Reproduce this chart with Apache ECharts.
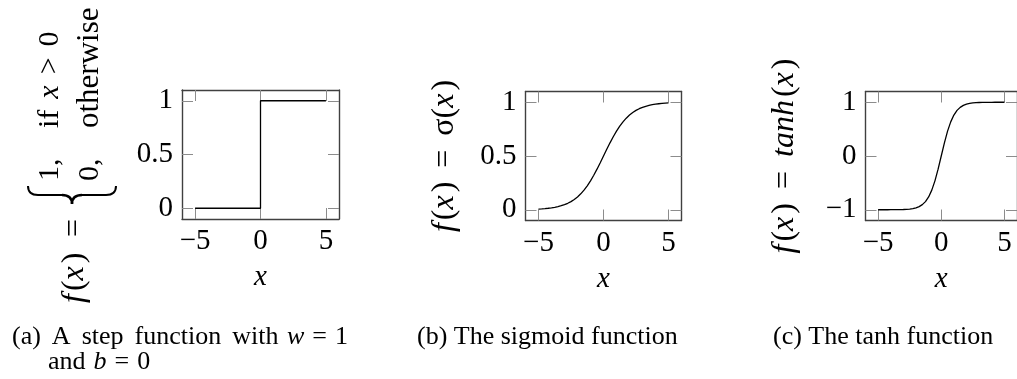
<!DOCTYPE html>
<html>
<head>
<meta charset="utf-8">
<script src="https://cdn.jsdelivr.net/npm/echarts@6/dist/echarts.min.js"></script>
<style>
  html, body { margin: 0; padding: 0; background: #fff; }
  #chart { width: 1017px; height: 379px; }
</style>
</head>
<body>
<div id="chart"></div>
<script>
// Shared x tick values
const xTicks = [-5, 0, 5];

// (a) step function, w = 1, b = 0
const stepX = [-5, 0, 0, 5];
const stepY = [0, 0, 1, 1];
const stepYTicks = [0, 0.5, 1];

// (b) sigmoid and (c) tanh, sampled every 0.25 on [-5, 5]
const curveX = [-5, -4.75, -4.5, -4.25, -4, -3.75, -3.5, -3.25, -3, -2.75, -2.5, -2.25, -2, -1.75, -1.5, -1.25,
                -1, -0.75, -0.5, -0.25, 0, 0.25, 0.5, 0.75, 1, 1.25, 1.5, 1.75, 2, 2.25, 2.5, 2.75,
                3, 3.25, 3.5, 3.75, 4, 4.25, 4.5, 4.75, 5];
const sigmoidY = [0.0067, 0.0086, 0.0110, 0.0141, 0.0180, 0.0230, 0.0293, 0.0373, 0.0474, 0.0601, 0.0759,
                  0.0953, 0.1192, 0.1480, 0.1824, 0.2227, 0.2689, 0.3208, 0.3775, 0.4378, 0.5,
                  0.5622, 0.6225, 0.6792, 0.7311, 0.7773, 0.8176, 0.8520, 0.8808, 0.9047, 0.9241,
                  0.9399, 0.9526, 0.9627, 0.9707, 0.9770, 0.9820, 0.9859, 0.9890, 0.9914, 0.9933];
const sigmoidYTicks = [0, 0.5, 1];
const tanhY = [-0.9999, -0.9999, -0.9998, -0.9996, -0.9993, -0.9989, -0.9982, -0.9970, -0.9951, -0.9919, -0.9866,
               -0.9780, -0.9640, -0.9414, -0.9051, -0.8483, -0.7616, -0.6351, -0.4621, -0.2449, 0,
               0.2449, 0.4621, 0.6351, 0.7616, 0.8483, 0.9051, 0.9414, 0.9640, 0.9780, 0.9866,
               0.9919, 0.9951, 0.9970, 0.9982, 0.9989, 0.9993, 0.9996, 0.9998, 0.9999, 0.9999];
const tanhYTicks = [-1, 0, 1];

const SERIF = '"Liberation Serif", "DejaVu Serif", serif';
const TICK_SIZE = 29;
const MATH_SIZE = 32;
const CAP_SIZE = 26;

const fmt = v => (v < 0 ? '\u2212' + Math.abs(v) : String(v));
const pairs = (xs, ys) => xs.map((x, i) => [x, ys[i]]);

const boxLine = { show: true, onZero: false, lineStyle: { color: '#404040', width: 1.4 } };
const tickStyle = { color: '#8c8c8c', width: 1 };

function xAxis(gi, position, withLabel) {
  const ax = {
    type: 'value', gridIndex: gi, position: position, min: -6, max: 6,
    axisLine: boxLine,
    axisTick: { show: true, inside: true, length: 11, customValues: xTicks, lineStyle: tickStyle },
    axisLabel: { show: withLabel, customValues: xTicks, formatter: fmt, margin: 8,
                 color: '#000', fontFamily: SERIF, fontSize: TICK_SIZE },
    splitLine: { show: false }
  };
  if (withLabel) {
    ax.name = 'x';
    ax.nameLocation = 'middle';
    ax.nameGap = 44;
    ax.nameTextStyle = { color: '#000', fontFamily: SERIF, fontSize: TICK_SIZE, fontStyle: 'italic' };
  }
  return ax;
}

function yAxis(gi, position, min, max, ticks, withLabel) {
  return {
    type: 'value', gridIndex: gi, position: position, min: min, max: max,
    axisLine: boxLine,
    axisTick: { show: true, inside: true, length: 11, customValues: ticks, lineStyle: tickStyle },
    axisLabel: { show: withLabel, customValues: ticks, formatter: fmt, margin: 9,
                 color: '#000', fontFamily: SERIF, fontSize: TICK_SIZE, padding: [4, 0, 0, 0] },
    splitLine: { show: false }
  };
}

// rich styles: italic math, roman, and fixed-width gaps
function richSet(size) {
  return {
    i: { fontStyle: 'italic', fontFamily: SERIF, fontSize: size, color: '#000' },
    r: { fontStyle: 'normal', fontFamily: SERIF, fontSize: size, color: '#000' },
    t: { fontFamily: SERIF, fontSize: size, width: 3 },
    q: { fontFamily: SERIF, fontSize: size, width: 8 },
    s: { fontFamily: SERIF, fontSize: size, width: 11 },
    m: { fontFamily: SERIF, fontSize: size, width: 14 }
  };
}
const mathRich = richSet(MATH_SIZE);
const capRich = richSet(CAP_SIZE);

const yA = yAxis(0, 'left', -0.1, 1.1, stepYTicks, true);
const yB = yAxis(1, 'left', -0.1, 1.1, sigmoidYTicks, true);
yB.name = '{i|f}{t| }{r|(}{i|x}{t| }{r|)}{m| }{r|=}{m| }{r|\u03C3(}{i|x}{t| }{r|)}';
yB.nameLocation = 'middle';
yB.nameRotate = 90;
yB.nameGap = 65;
yB.nameTextStyle = { rich: mathRich, fontFamily: SERIF, fontSize: MATH_SIZE };
const yC = yAxis(2, 'left', -1.2, 1.2, tanhYTicks, true);
yC.name = '{i|f}{t| }{r|(}{i|x}{t| }{r|)}{m| }{r|=}{m| }{i|tanh}{t| }{r|(}{i|x}{t| }{r|)}';
yC.nameLocation = 'middle';
yC.nameRotate = 90;
yC.nameGap = 65;
yC.nameTextStyle = { rich: mathRich, fontFamily: SERIF, fontSize: MATH_SIZE };

const lineSeries = (gi, data) => ({
  type: 'line', xAxisIndex: gi * 2, yAxisIndex: gi * 2, data: data,
  symbol: 'none', smooth: false,
  lineStyle: { color: '#000', width: 1.3 }
});

// Rotated text for the piecewise label of panel (a)
const vtext = (x, y, text, size) => ({
  type: 'text', x: x, y: y, rotation: Math.PI / 2,
  style: { text: text, rich: richSet(size), fontFamily: SERIF, fontSize: size, fill: '#000',
           textAlign: 'left', textVerticalAlign: 'middle' }
});
const htext = (x, y, text, align) => ({
  type: 'text', x: x, y: y,
  style: { text: text, rich: capRich, fontFamily: SERIF, fontSize: CAP_SIZE, fill: '#000',
           textAlign: align || 'left', textVerticalAlign: 'middle' }
});

// Curly brace of the piecewise definition, built from curve and line pieces
const braceStroke = { fill: 'none', stroke: '#000', lineWidth: 2 };
const qcurve = (x1, y1, cx, cy, x2, y2, w) => ({
  type: 'bezierCurve', shape: { x1: x1, y1: y1, cpx1: cx, cpy1: cy, x2: x2, y2: y2 },
  style: Object.assign({}, braceStroke, { lineWidth: w || 2 })
});
const seg = (x1, y1, x2, y2) => ({
  type: 'line', shape: { x1: x1, y1: y1, x2: x2, y2: y2 }, style: braceStroke
});

const option = {
  backgroundColor: '#fff',
  animation: false,
  grid: [
    { left: 182, top: 90, width: 157, height: 129 },
    { left: 525.5, top: 91.5, width: 156, height: 129 },
    { left: 865.5, top: 91.5, width: 156, height: 129 }
  ],
  xAxis: [
    xAxis(0, 'bottom', true), xAxis(0, 'top', false),
    xAxis(1, 'bottom', true), xAxis(1, 'top', false),
    xAxis(2, 'bottom', true), xAxis(2, 'top', false)
  ],
  yAxis: [
    yA, yAxis(0, 'right', -0.1, 1.1, stepYTicks, false),
    yB, yAxis(1, 'right', -0.1, 1.1, sigmoidYTicks, false),
    yC, yAxis(2, 'right', -1.2, 1.2, tanhYTicks, false)
  ],
  series: [
    lineSeries(0, pairs(stepX, stepY)),
    lineSeries(1, pairs(curveX, sigmoidY)),
    lineSeries(2, pairs(curveX, tanhY))
  ],
  graphic: [
    // f(x) = { 1, if x > 0 ; 0, otherwise }
    vtext(75, 303, '{i|f}{t| }{r|(}{i|x}{t| }{r|)}', MATH_SIZE),
    vtext(75, 237, '{r|=}', MATH_SIZE),
    qcurve(28, 186, 28, 195, 38, 195),
    seg(38, 195, 62, 195),
    qcurve(62, 195, 72, 195, 72, 204, 2.4),
    qcurve(72, 204, 72, 195, 82, 195, 2.4),
    seg(82, 195, 106, 195),
    qcurve(106, 195, 116, 195, 116, 186),
    vtext(50, 181, '{r|1,}', 30),
    vtext(50, 128, '{r|if}{s| }{i|x}{s| }{r|>}{s| }{r|0}', 30),
    vtext(90, 181, '{r|0,}', 30),
    vtext(90, 128, '{r|otherwise}', 31),
    // captions
    htext(12, 337, '{r|(a)}{s| }{r|A}{s| }{r|step}{s| }{r|function}{s| }{r|with}'),
    htext(348, 337, '{i|w}{q| }{r|=}{q| }{r|1}', 'right'),
    htext(48, 362, '{r|and}{q| }{i|b}{q| }{r|=}{q| }{r|0}'),
    htext(417, 337, '{r|(b) The sigmoid function}'),
    htext(773, 337, '{r|(c) The tanh function}')
  ]
};

const chart = echarts.init(document.getElementById('chart'), null, { renderer: 'canvas' });
chart.setOption(option);
</script>
</body>
</html>
